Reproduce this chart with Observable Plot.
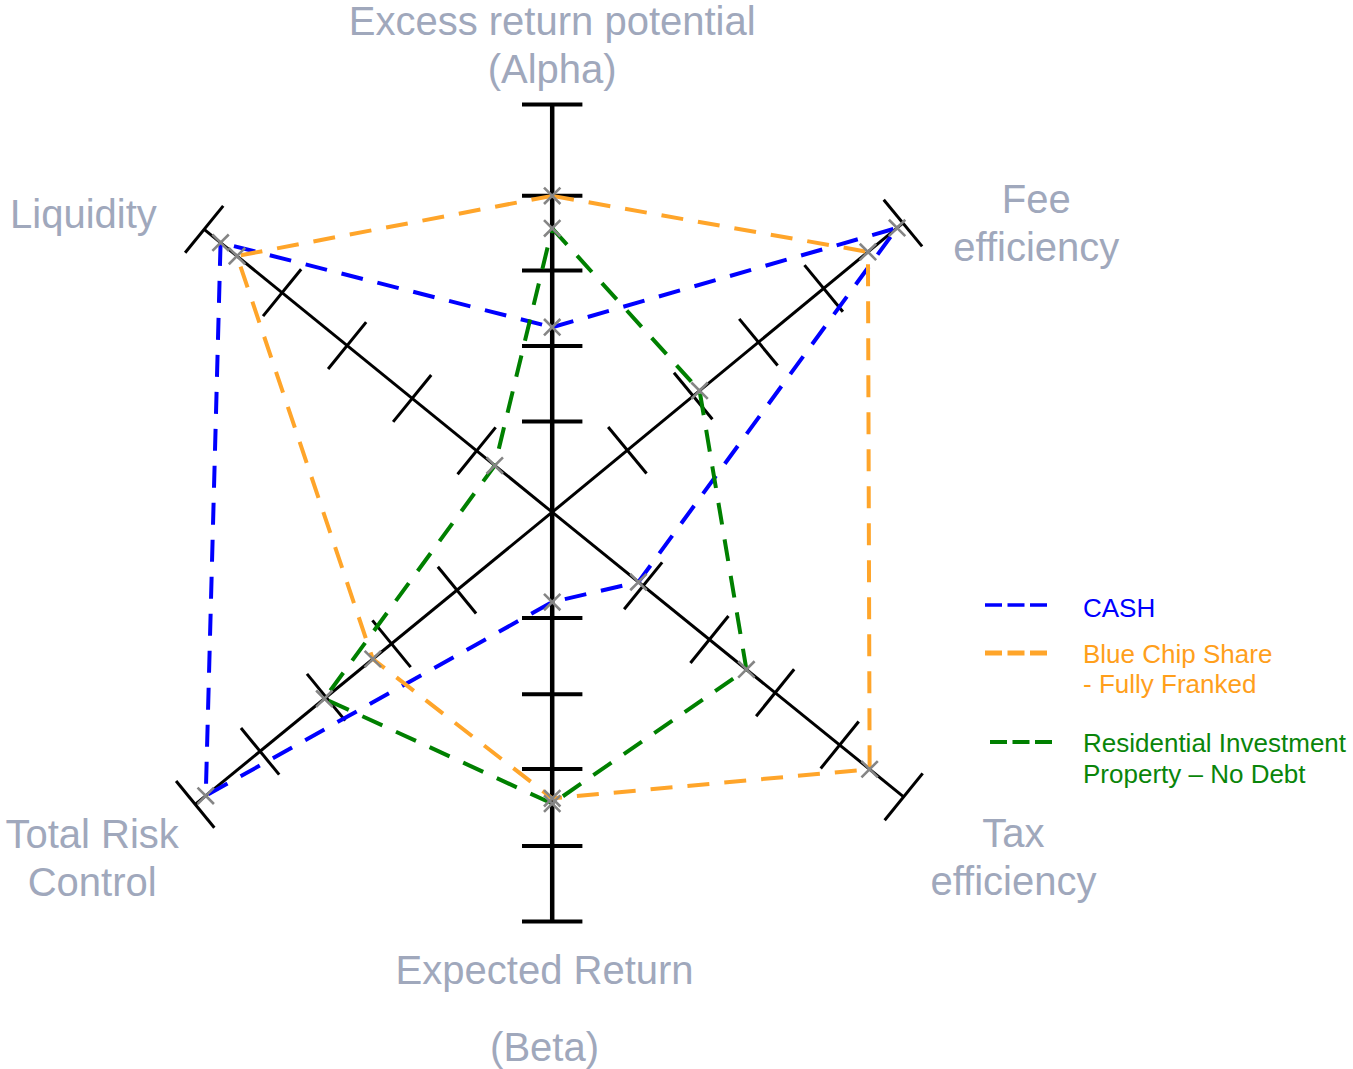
<!DOCTYPE html>
<html><head><meta charset="utf-8">
<script src="https://cdn.jsdelivr.net/npm/d3@7"></script>
<script src="https://cdn.jsdelivr.net/npm/@observablehq/plot@0.6"></script>
<style>
html,body{margin:0;padding:0;background:#fff;}
#wrap{position:relative;width:1353px;height:1069px;font-family:"Liberation Sans",Arial,Helvetica,sans-serif;}
#chart svg{display:block;}
.lg{position:absolute;font-size:26px;line-height:30px;white-space:pre;}
.lgline{position:absolute;}
</style></head><body>
<div id="wrap"><div id="chart"></div><div id="legend"></div></div>
<script>
// ---- data ----
const axisNames = ["Excess return potential\n(Alpha)", "Fee\nefficiency", "Tax\nefficiency", "Expected Return\n(Beta)", "Total Risk\nControl", "Liquidity"];
const axisAngles = [90, 39.5, -39, -90, -140.7, 140.9];
// tick positions along each axis (last one = end cap), same units as values
const axisTicks = [
  [1.20, 2.20, 3.20, 4.19, 5.40],
  [1.29, 2.42, 3.54, 4.66, 6.02],
  [1.55, 2.68, 3.80, 4.90, 5.99],
  [1.40, 2.41, 3.40, 4.42, 5.42],
  [1.63, 2.75, 3.87, 5.00, 6.11],
  [1.29, 2.39, 3.50, 4.61, 5.94]
];
const labelAngles = [90, 31.0, -36.7, -90.9, -143.2, 147.4];
const labelRadii = [6.20, 7.48, 7.62, 6.43, 7.61, 7.37];

const seriesNames = ["CASH", "Blue Chip Share\n- Fully Franked", "Residential Investment\nProperty – No Debt"];
const cashValues = [2.45, 5.92, 1.47, 1.19, 5.93, 5.66];
const blueChipValues = [4.19, 5.42, 5.41, 3.79, 3.07, 5.38];
const residentialValues = [3.76, 2.53, 3.31, 3.86, 3.90, 0.98];
const seriesColors = ["#0000ff", "#ffa52a", "#008000"];
const legendTextColors = ["#0000ff", "#ff9f1c", "#0a850a"];

// ---- layout ----
const W = 1353, H = 1069, CX = 551.7, CY = 511.7, U = 75.5;
const rad = a => a * Math.PI / 180;
const px = (r, a) => r * Math.cos(rad(a));
const py = (r, a) => r * Math.sin(rad(a));

const axes = axisNames.map((name, i) => ({
  name, angle: axisAngles[i], len: axisTicks[i][axisTicks[i].length - 1],
  vertical: Math.abs(Math.abs(axisAngles[i]) - 90) < 1,
  la: labelAngles[i], lr: labelRadii[i]
}));
const HALF = 0.4;
const ticks = axes.flatMap((ax, i) => axisTicks[i].map(t => {
  const cx = px(t, ax.angle), cy = py(t, ax.angle);
  const nx = -Math.sin(rad(ax.angle)), ny = Math.cos(rad(ax.angle));
  return {vertical: ax.vertical, x1: cx - HALF * nx, y1: cy - HALF * ny, x2: cx + HALF * nx, y2: cy + HALF * ny};
}));

const allValues = [cashValues, blueChipValues, residentialValues];
const rows = [];
allValues.forEach((vals, s) => {
  for (let k = 0; k <= vals.length; k++) {
    const i = k % vals.length;
    rows.push({series: seriesNames[s], x: px(vals[i], axisAngles[i]), y: py(vals[i], axisAngles[i]), closing: k === vals.length});
  }
});
const pts = rows.filter(d => !d.closing);

const font = '"Liberation Sans", Arial, Helvetica, sans-serif';
const labelColor = "#a0a8bc";

const chart = Plot.plot({
  width: W, height: H, margin: 0,
  x: {domain: [-CX / U, (W - CX) / U], axis: null},
  y: {domain: [-(H - CY) / U, CY / U], axis: null},
  color: {domain: seriesNames, range: seriesColors},
  style: {fontFamily: font, background: "white", overflow: "visible"},
  marks: [
    Plot.link(axes.filter(d => d.vertical), {x1: 0, y1: 0, x2: d => px(d.len, d.angle), y2: d => py(d.len, d.angle), stroke: "black", strokeWidth: 4.5, strokeLinecap: "butt"}),
    Plot.link(axes.filter(d => !d.vertical), {x1: 0, y1: 0, x2: d => px(d.len, d.angle), y2: d => py(d.len, d.angle), stroke: "black", strokeWidth: 3, strokeLinecap: "butt"}),
    Plot.link(ticks.filter(d => d.vertical), {x1: "x1", y1: "y1", x2: "x2", y2: "y2", stroke: "black", strokeWidth: 4, strokeLinecap: "butt"}),
    Plot.link(ticks.filter(d => !d.vertical), {x1: "x1", y1: "y1", x2: "x2", y2: "y2", stroke: "black", strokeWidth: 3, strokeLinecap: "butt"}),
    Plot.line(rows, {x: "x", y: "y", z: "series", stroke: "series", strokeWidth: 4, strokeDasharray: "22,15", strokeLinecap: "butt", strokeLinejoin: "miter", curve: "linear"}),
    Plot.dot(pts, {x: "x", y: "y", symbol: "times", r: 7.5, stroke: "#858585", strokeWidth: 2.6}),
    Plot.text(axes.filter(d => !d.name.startsWith("Expected")), {x: d => px(d.lr, d.la), y: d => py(d.lr, d.la), text: "name", fill: labelColor, fontSize: 40, lineHeight: 1.2, textAnchor: "middle", lineAnchor: "middle", fontFamily: font}),
    Plot.text(axes.filter(d => d.name.startsWith("Expected")), {x: d => px(d.lr, d.la), y: d => py(d.lr, d.la), text: "name", fill: labelColor, fontSize: 40, lineHeight: 1.92, textAnchor: "middle", lineAnchor: "middle", fontFamily: font})
  ]
});
document.getElementById("chart").appendChild(chart);

// ---- legend (HTML overlay) ----
const legendItems = [
  {y: 605, textTop: 593, lx: 985, w: 62, sw: 3.5},
  {y: 653, textTop: 639, lx: 985, w: 62, sw: 5},
  {y: 742, textTop: 728, lx: 990, w: 62, sw: 4}
];
const lg = document.getElementById("legend");
seriesNames.forEach((name, i) => {
  const it = legendItems[i];
  const s = document.createElementNS("http://www.w3.org/2000/svg", "svg");
  s.setAttribute("width", it.w); s.setAttribute("height", 10);
  s.setAttribute("class", "lgline");
  s.style.left = it.lx + "px"; s.style.top = (it.y - 5) + "px";
  s.innerHTML = `<line x1="0" y1="5" x2="${it.w}" y2="5" stroke="${seriesColors[i]}" stroke-width="${it.sw}" stroke-dasharray="17,5.5"/>`;
  lg.appendChild(s);
  const t = document.createElement("div");
  t.className = "lg";
  t.style.left = "1083px"; t.style.top = it.textTop + "px";
  t.style.color = legendTextColors[i];
  if (i === 2) t.style.lineHeight = "31px";
  t.textContent = name;
  lg.appendChild(t);
});
</script>
</body></html>
